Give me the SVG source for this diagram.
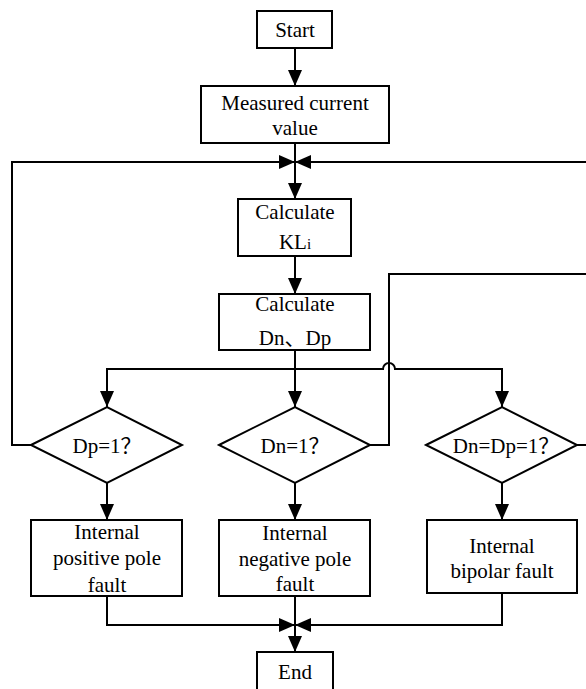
<svg xmlns="http://www.w3.org/2000/svg" width="586" height="689" viewBox="0 0 586 689">
<defs>
<style>
.box{fill:#fff;stroke:#000;stroke-width:2}
.ln{fill:none;stroke:#000;stroke-width:2}
.t{font-family:'Liberation Serif','DejaVu Serif',serif;font-size:21px;fill:#000;text-anchor:middle}
.cjk{font-family:'Noto Sans CJK SC',sans-serif}
</style>
<marker id="ah" markerUnits="userSpaceOnUse" markerWidth="16" markerHeight="14" refX="16" refY="7" orient="auto">
<path d="M0,0 L16,7 L0,14 z" fill="#000"/>
</marker>
</defs>
<g id="connectors">
<path class="ln" d="M295,48 V86" marker-end="url(#ah)"/>
<path class="ln" d="M295,143 V199" marker-end="url(#ah)"/>
<path class="ln" d="M31,445 H12 V162 H295" marker-end="url(#ah)"/>
<path class="ln" d="M577,445 H590 M590,162 H295" marker-end="url(#ah)"/>
<path class="ln" d="M295,256 V294" marker-end="url(#ah)"/>
<path class="ln" d="M295,350 V407" marker-end="url(#ah)"/>
<path class="ln" d="M295,369 H107 V407" marker-end="url(#ah)"/>
<path class="ln" d="M295,369 H383 A6,6 0 0 1 395,369 H502 V407" marker-end="url(#ah)"/>
<path class="ln" d="M370,445 H389 V274 H590"/>
<path class="ln" d="M107,483 V520" marker-end="url(#ah)"/>
<path class="ln" d="M295,483 V520" marker-end="url(#ah)"/>
<path class="ln" d="M502,483 V520" marker-end="url(#ah)"/>
<path class="ln" d="M107,596 V625 H295" marker-end="url(#ah)"/>
<path class="ln" d="M502,593 V625 H295" marker-end="url(#ah)"/>
<path class="ln" d="M295,596 V652" marker-end="url(#ah)"/>
</g>
<g id="start"><rect class="box" x="257" y="11" width="75" height="37"/><text class="t" x="295" y="37">Start</text></g>
<g id="measured"><rect class="box" x="201" y="86" width="188" height="57"/><text class="t" x="295" y="110">Measured current</text><text class="t" x="295" y="135">value</text></g>
<g id="calcKL"><rect class="box" x="238" y="199" width="113" height="57"/><text class="t" x="295" y="219">Calculate</text><text class="t" x="295" y="249">KL<tspan font-size="15">i</tspan></text></g>
<g id="calcD"><rect class="box" x="219" y="294" width="151" height="56"/><text class="t" x="295" y="311">Calculate</text><text class="t" x="295" y="345">Dn<tspan class="cjk">、</tspan>Dp</text></g>
<g id="d1"><path class="box" d="M31,445 L107,407 L182,445 L107,483 z"/><text class="t" x="107" y="453">Dp=1<tspan class="cjk">？</tspan></text></g>
<g id="d2"><path class="box" d="M219,445 L295,407 L370,445 L295,483 z"/><text class="t" x="295" y="453">Dn=1<tspan class="cjk">？</tspan></text></g>
<g id="d3"><path class="box" d="M426,445 L502,407 L577,445 L502,483 z"/><text class="t" x="506" y="453">Dn=Dp=1<tspan class="cjk">？</tspan></text></g>
<g id="f1"><rect class="box" x="31" y="520" width="151" height="76"/><text class="t" x="107" y="539">Internal</text><text class="t" x="107" y="565">positive pole</text><text class="t" x="107" y="592">fault</text></g>
<g id="f2"><rect class="box" x="219" y="520" width="151" height="76"/><text class="t" x="295" y="540">Internal</text><text class="t" x="295" y="566">negative pole</text><text class="t" x="295" y="591">fault</text></g>
<g id="f3"><rect class="box" x="427" y="520" width="150" height="73"/><text class="t" x="502" y="553">Internal</text><text class="t" x="502" y="578">bipolar fault</text></g>
<g id="end"><rect class="box" x="257" y="652" width="76" height="40"/><text class="t" x="295" y="679">End</text></g>
</svg>
